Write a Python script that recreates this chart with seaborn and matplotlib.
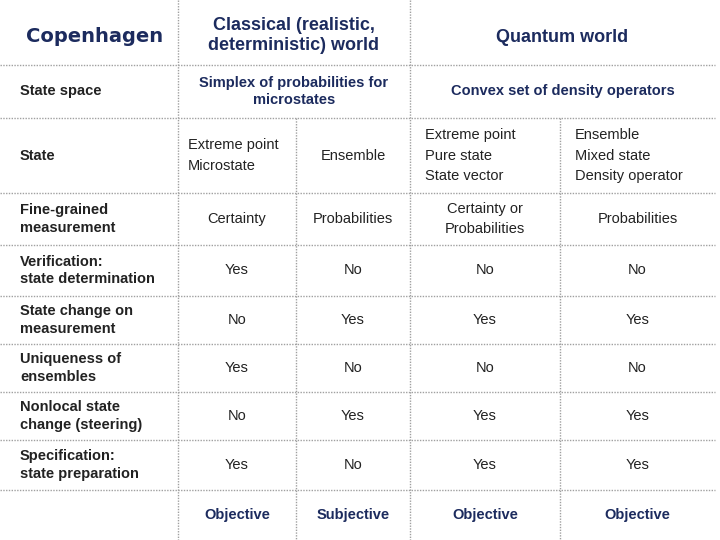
import matplotlib.pyplot as plt
import seaborn as sns

sns.set_theme(style="white")
plt.rcParams['font.family'] = ['Liberation Sans', 'DejaVu Sans']

row_labels = ["State space", "State", "Fine-grained\nmeasurement", "Verification:\nstate determination",
              "State change on\nmeasurement", "Uniqueness of\nensembles", "Nonlocal state\nchange (steering)",
              "Specification:\nstate preparation", ""]
state_space = ["Simplex of probabilities for\nmicrostates", "Convex set of density operators"]
state_row = ["Extreme point\nMicrostate", "Ensemble", "Extreme point\nPure state\nState vector",
             "Ensemble\nMixed state\nDensity operator"]
fine_row = ["Certainty", "Probabilities", "Certainty or\nProbabilities", "Probabilities"]
yes_no = [["Yes", "No", "No", "No"],
          ["No", "Yes", "Yes", "Yes"],
          ["Yes", "No", "No", "No"],
          ["No", "Yes", "Yes", "Yes"],
          ["Yes", "No", "Yes", "Yes"]]
last_row = ["Objective", "Subjective", "Objective", "Objective"]

xb = [0, 178, 296, 410, 560, 715]
yb = [0, 65, 118, 193, 245, 296, 344, 392, 440, 490, 540]
hdr = "#1c2b5e"
line = "#a0a0a0"

fig, ax = plt.subplots(figsize=(7.2, 5.4), dpi=100)
fig.subplots_adjust(0, 0, 1, 1)
ax.set_xlim(0, 720)
ax.set_ylim(540, 0)
ax.axis("off")

for y in yb[1:-1]:
    ax.plot([0, 715], [y, y], color=line, lw=1, ls=(0, (1, 1)))
for i, x in enumerate(xb[1:-1]):
    y0 = 0 if i % 2 == 0 else yb[2]
    ax.plot([x, x], [y0, 540], color=line, lw=1, ls=(0, (1, 1)))

cx = [(xb[i] + xb[i + 1]) / 2 for i in range(5)]
cy = [(yb[i] + yb[i + 1]) / 2 for i in range(10)]

ax.text(95, cy[0] + 4, "Copenhagen", ha="center", va="center", fontsize=14, color=hdr,
        fontweight="bold", family=["DejaVu Sans"])
ax.text((xb[1] + xb[3]) / 2, cy[0] + 3, "Classical (realistic,\ndeterministic) world",
        ha="center", va="center", fontsize=13, color=hdr, fontweight="bold")
ax.text((xb[3] + xb[5]) / 2, cy[0] + 5, "Quantum world", ha="center", va="center",
        fontsize=13, color=hdr, fontweight="bold")

for r, lab in enumerate(row_labels):
    ax.text(20, cy[r + 1], lab, ha="left", va="center", fontsize=10.5, color="#222222",
            linespacing=1.3, fontweight="bold")

ax.text((xb[1] + xb[3]) / 2, cy[1], state_space[0], ha="center", va="center",
        fontsize=10.5, color=hdr, fontweight="bold")
ax.text((xb[3] + xb[5]) / 2, cy[1], state_space[1], ha="center", va="center",
        fontsize=10.5, color=hdr, fontweight="bold")

for c, t in enumerate(state_row):
    ha = "center" if c == 1 else "left"
    x = cx[c + 1] if c == 1 else xb[c + 1] + 10 + (5 if c >= 2 else 0)
    ax.text(x, cy[2], t, ha=ha, va="center", fontsize=10.5, color="#222222", linespacing=1.6)
for c, t in enumerate(fine_row):
    ax.text(cx[c + 1], cy[3], t, ha="center", va="center", fontsize=10.5, color="#222222",
            linespacing=1.6)
for r, vals in enumerate(yes_no):
    for c, t in enumerate(vals):
        ax.text(cx[c + 1], cy[4 + r], t, ha="center", va="center", fontsize=10.5,
                color="#222222")
for c, t in enumerate(last_row):
    ax.text(cx[c + 1], cy[9], t, ha="center", va="center", fontsize=10.5, color=hdr,
            fontweight="bold")

fig.savefig("out.png", dpi=100)
